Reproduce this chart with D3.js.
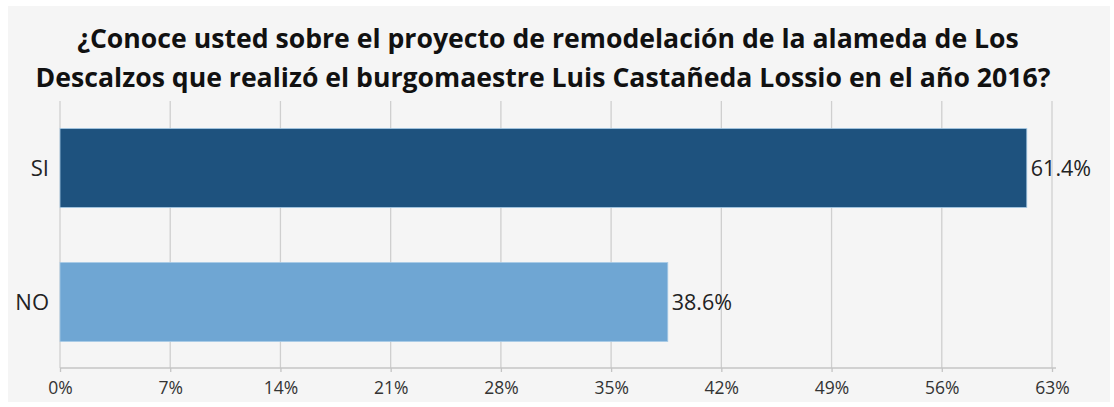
<!DOCTYPE html>
<html><head><meta charset="utf-8">
<script src="https://cdn.jsdelivr.net/npm/d3@7"></script>
<style>html,body{margin:0;padding:0;background:#fff;}svg{display:block;}</style>
</head><body>
<svg id="c" width="1114" height="407"></svg>
<script>
const titleLines = ["¿Conoce usted sobre el proyecto de remodelación de la alameda de Los",
                    "Descalzos que realizó el burgomaestre Luis Castañeda Lossio en el año 2016?"];
const categories = ["SI", "NO"];
const values = [61.4, 38.6];
const barColors = ["#1e527e", "#6fa6d3"];
const tickValues = [0, 7, 14, 21, 28, 35, 42, 49, 56, 63];

const font = "'Open Sans', 'Noto Sans', sans-serif";
const svg = d3.select("#c");
svg.append("rect").attr("x", 8).attr("y", 6).attr("width", 1102).attr("height", 396).attr("fill", "#f5f5f5");

const x = d3.scaleLinear().domain([0, 63]).range([60, 1052]);
const y = d3.scaleBand().domain(categories).range([101, 369]).paddingInner(0.41).paddingOuter(0.205);

// grid
svg.append("g").selectAll("line").data(tickValues).join("line")
  .attr("x1", d => x(d)).attr("x2", d => x(d)).attr("y1", 101).attr("y2", 368)
  .attr("stroke", "#cfcfcf").attr("stroke-width", 1.3);

// bars
svg.append("g").selectAll("rect").data(categories).join("rect")
  .attr("x", x(0)).attr("y", d => y(d))
  .attr("width", (d, i) => x(values[i]) - x(0)).attr("height", y.bandwidth())
  .attr("fill", (d, i) => barColors[i])
  .attr("stroke", "#a9cbe6").attr("stroke-width", 0.8);

// x axis
const xa = svg.append("g").attr("transform", "translate(0,368)")
  .call(d3.axisBottom(x).tickValues(tickValues).tickFormat(d => d + "%").tickSize(4).tickPadding(10));
xa.select(".domain").attr("stroke", "#c4c4c4").attr("stroke-width", 1.3).attr("d", "M60,0H1056");
xa.selectAll(".tick line").attr("stroke", "#c4c4c4").attr("stroke-width", 1.3);
xa.selectAll("text").attr("font-family", font).attr("font-size", 17.5).attr("fill", "#333");

// y labels
svg.append("g").selectAll("text").data(categories).join("text")
  .attr("x", 49).attr("y", d => y(d) + y.bandwidth() / 2).attr("dy", "0.36em")
  .attr("text-anchor", "end").attr("font-family", font).attr("font-size", 22).attr("fill", "#222")
  .text(d => d);

// value labels
svg.append("g").selectAll("text").data(categories).join("text")
  .attr("x", (d, i) => x(values[i]) + 4).attr("y", d => y(d) + y.bandwidth() / 2).attr("dy", "0.36em")
  .attr("font-family", font).attr("font-size", 21.5).attr("fill", "#222")
  .text((d, i) => values[i].toFixed(1) + "%");

// title
const titleX = [548, 543];
const tl = svg.append("g").selectAll("text").data(titleLines).join("text")
  .attr("x", (d, i) => titleX[i]).attr("y", (d, i) => 48 + i * 39).attr("text-anchor", "middle")
  .attr("font-family", font).attr("font-weight", "bold").attr("font-size", 24).attr("fill", "#111")
  .text(d => d);
const w2 = tl.nodes()[1].getComputedTextLength();
const fs = 24 * 1015 / w2;
tl.attr("font-size", fs);
</script>
</body></html>
